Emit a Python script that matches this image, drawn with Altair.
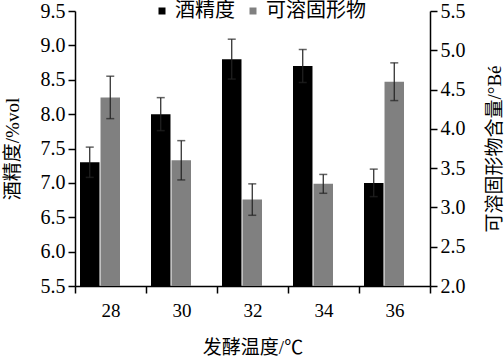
import altair as alt
import pandas as pd

temps = ["28", "30", "32", "34", "36"]
series_names = ["酒精度", "可溶固形物"]
alcohol = [7.3, 8.0, 8.8, 8.7, 7.0]
alcohol_err = [0.22, 0.24, 0.29, 0.24, 0.20]
solids = [4.40, 3.60, 3.10, 3.30, 4.60]
solids_err = [0.27, 0.25, 0.20, 0.12, 0.24]
left_ticks = [5.5, 6.0, 6.5, 7.0, 7.5, 8.0, 8.5, 9.0, 9.5]
right_ticks = [2.0, 2.5, 3.0, 3.5, 4.0, 4.5, 5.0, 5.5]

rows = []
for t, v, e in zip(temps, alcohol, alcohol_err):
    rows.append(dict(temp=t, series=series_names[0], value=v, err=e))
for t, v, e in zip(temps, solids, solids_err):
    rows.append(dict(temp=t, series=series_names[1], value=v, err=e))
df = pd.DataFrame(rows)

FONT = "Liberation Serif, Noto Sans CJK SC"

xenc = alt.X(
    "temp:N",
    scale=alt.Scale(domain=temps, paddingInner=0, paddingOuter=0),
    axis=alt.Axis(
        title="发酵温度/℃", labelAngle=0, tickBand="extent", tickSize=7,
        labelFontSize=19, titleFontSize=19, labelPadding=8, titlePadding=18,
        domainColor="black", tickColor="black", domainWidth=1.5, tickWidth=1.5,
        labelColor="black", titleColor="black", titleFontWeight="normal",
        labelFont=FONT, titleFont=FONT,
    ),
)
xoff = alt.XOffset(
    "series:N",
    scale=alt.Scale(domain=series_names, range=[5, 45], paddingInner=0.05),
)
color = alt.Color(
    "series:N",
    scale=alt.Scale(domain=series_names, range=["#000000", "#808080"]),
    legend=alt.Legend(
        title=None, orient="none", legendX=77, legendY=-10, direction="horizontal",
        symbolType="square", symbolSize=49, symbolStrokeWidth=0,
        labelFontSize=20, labelFont=FONT, labelColor="black",
        labelOffset=3, columnPadding=8, padding=0,
    ),
)


def panel(name, domain, ticks, orient, title, title_pad, title_base):
    base = (
        alt.Chart(df)
        .transform_filter(alt.datum.series == name)
        .transform_calculate(lo="datum.value - datum.err", hi="datum.value + datum.err")
    )
    sc = alt.Scale(domain=domain, zero=False, nice=False, clamp=True)
    axis = alt.Axis(
        orient=orient, title=title, values=ticks, format=".1f", tickSize=7,
        labelFontSize=20, titleFontSize=19, labelFont=FONT, titleFont=FONT,
        labelPadding=3,
        domainColor="black", tickColor="black", domainWidth=1.5, tickWidth=1.5,
        labelColor="black", titleColor="black", titleFontWeight="normal",
        titleAngle=270, titleBaseline=title_base, titlePadding=title_pad, grid=False,
    )
    bars = base.mark_bar().encode(
        x=xenc, xOffset=xoff, y=alt.Y("value:Q", scale=sc, axis=axis), color=color
    )
    rule = base.mark_rule(color="#222222", strokeWidth=1.2).encode(
        x=xenc, xOffset=xoff, y=alt.Y("lo:Q", scale=sc, axis=axis), y2="hi:Q"
    )
    cap_hi = base.mark_tick(color="#222222", thickness=1.5, size=8).encode(
        x=xenc, xOffset=xoff, y=alt.Y("hi:Q", scale=sc, axis=axis)
    )
    cap_lo = base.mark_tick(color="#222222", thickness=1.5, size=8).encode(
        x=xenc, xOffset=xoff, y=alt.Y("lo:Q", scale=sc, axis=axis)
    )
    return alt.layer(bars, rule, cap_hi, cap_lo)


left = panel(series_names[0], [5.5, 9.5], left_ticks, "left", "酒精度/%vol", 18, "bottom")
right = panel(series_names[1], [2.0, 5.5], right_ticks, "right", "可溶固形物含量/°Bé", 20, "top")

chart = (
    alt.layer(left, right)
    .resolve_scale(y="independent")
    .properties(
        width=355, height=275,
        autosize=alt.AutoSizeParams(type="none"),
        padding={"left": 75, "top": 11, "right": 74, "bottom": 71},
        background="white",
    )
    .configure_view(stroke=None)
)

chart.save("out.html", embed_options={"renderer": "svg", "actions": False})
